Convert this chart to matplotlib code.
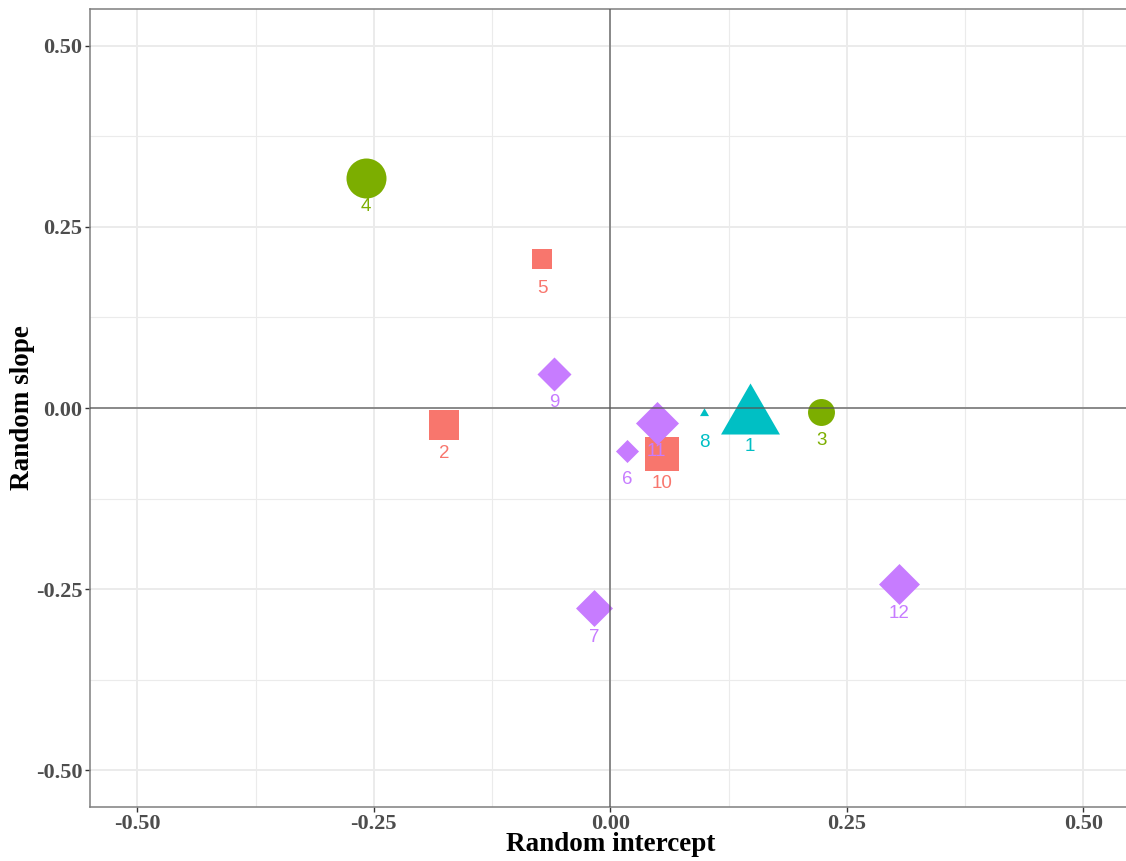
import numpy as np
import matplotlib
matplotlib.use("Agg")
from matplotlib import pyplot as plt
from matplotlib.ticker import MultipleLocator

# random effects per site
site_id = ["1", "2", "3", "4", "5", "6", "7", "8", "9", "10", "11", "12"]
intercept = [0.148, -0.176, 0.223, -0.258, -0.072, 0.018, -0.017, 0.099, -0.059, 0.055, 0.049, 0.305]
slope = [-0.013, -0.023, -0.005, 0.318, 0.205, -0.059, -0.276, -0.007, 0.047, -0.064, -0.020, -0.243]
group = ["C", "A", "B", "B", "A", "D", "D", "C", "D", "A", "D", "D"]
weight = [49, 21.6, 19.4, 28.8, 13.7, 16.6, 26.6, 7.5, 24.5, 23.8, 31, 29.5]

# ggplot-style hue palette and shapes per group
colors = {"A": "#F8766D", "B": "#7CAE00", "C": "#00BFC4", "D": "#C77CFF"}
tri = [(0, 1), (0.866, -0.5), (-0.866, -0.5), (0, 1)]
dia = [(0, 1), (1, 0), (0, -1), (-1, 0), (0, 1)]
shapes = {"A": "s", "B": "o", "C": tri, "D": dia}

serif = ["Liberation Serif", "DejaVu Serif"]
sans = ["Liberation Sans", "DejaVu Sans"]

fig = plt.figure(figsize=(11.26, 8.61), dpi=100)
ax = fig.add_axes([0.0799, 0.0631, 0.9242, 0.926])

ax.set_xlim(-0.55, 0.55)
ax.set_ylim(-0.55, 0.55)
ax.xaxis.set_major_locator(MultipleLocator(0.25))
ax.yaxis.set_major_locator(MultipleLocator(0.25))
ax.xaxis.set_minor_locator(MultipleLocator(0.125))
ax.yaxis.set_minor_locator(MultipleLocator(0.125))
ax.grid(which="major", color="#EBEBEB", linewidth=1.4, zorder=0)
ax.grid(which="minor", color="#EBEBEB", linewidth=0.8, zorder=0)
ax.set_axisbelow(True)

for i in range(len(site_id)):
    g = group[i]
    ax.plot(intercept[i], slope[i], linestyle="none", marker=shapes[g],
            markersize=weight[i], color=colors[g], markeredgewidth=0, zorder=3)

ax.axhline(0, color="#555555", linewidth=1.3, alpha=0.7, zorder=4)
ax.axvline(0, color="#555555", linewidth=1.3, alpha=0.7, zorder=4)

for i in range(len(site_id)):
    ax.text(intercept[i], slope[i] - 0.04, site_id[i], color=colors[group[i]],
            ha="center", va="center", fontsize=13.5, family=sans, zorder=5)

ax.set_xticks([-0.5, -0.25, 0, 0.25, 0.5])
ax.set_yticks([-0.5, -0.25, 0, 0.25, 0.5])
ax.set_xticklabels(["-0.50", "-0.25", "0.00", "0.25", "0.50"])
ax.set_yticklabels(["-0.50", "-0.25", "0.00", "0.25", "0.50"])
for lab in ax.get_xticklabels() + ax.get_yticklabels():
    lab.set_family(serif)
    lab.set_fontweight("bold")
    lab.set_fontsize(16)
    lab.set_color("#4D4D4D")
ax.tick_params(which="major", direction="out", length=3.5, width=1, color="#333333", pad=2)
ax.tick_params(which="minor", length=0)

for sp in ax.spines.values():
    sp.set_color("#7F7F7F")
    sp.set_linewidth(1.1)

ax.set_xlabel("Random intercept", family=serif, fontweight="bold", fontsize=19.5,
              color="black")
ax.set_ylabel("Random slope", family=serif, fontweight="bold", fontsize=19.5,
              color="black")
ax.xaxis.set_label_coords(0.5, -0.032)
ax.yaxis.set_label_coords(-0.053, 0.5)

fig.savefig("out.png", dpi=100)
